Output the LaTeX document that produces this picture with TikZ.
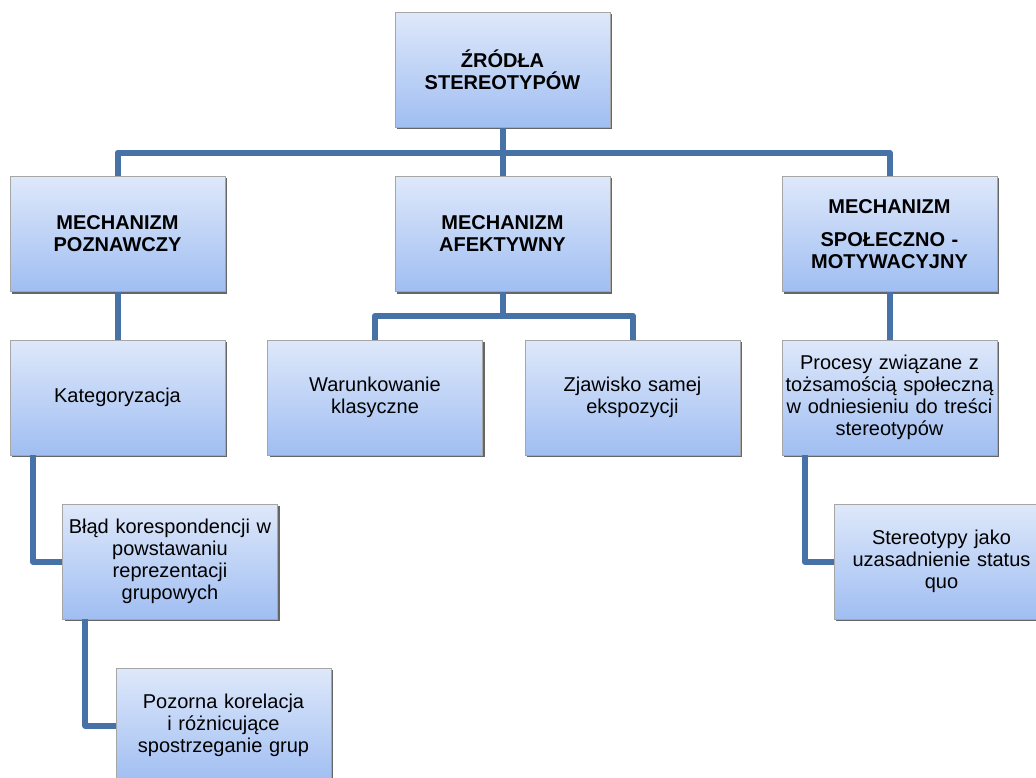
\documentclass[tikz,border=0pt]{standalone}
\usepackage{fontspec}
\setmainfont{Liberation Sans}
\usetikzlibrary{shadows}

\definecolor{linkblue}{RGB}{70,114,168}
\definecolor{boxtop}{RGB}{222,232,250}
\definecolor{boxbottom}{RGB}{160,190,242}

\tikzset{
  box/.style={rectangle, draw=black!35, thin,
              top color=boxtop, bottom color=boxbottom,
              drop shadow={shadow xshift=2pt, shadow yshift=-2pt, fill=black!60, opacity=1},
              minimum width=215pt, minimum height=115pt,
              text width=209pt, align=center, inner sep=0pt,
              font=\fontsize{20}{22}\selectfont},
  head/.style={font=\fontsize{20}{22}\selectfont\bfseries},
  link/.style={draw=linkblue, line width=6pt, line join=round}
}

\begin{document}
\begin{tikzpicture}[x=1pt, y=-1pt]
\useasboundingbox (0,0) rectangle (1036,778);
\clip (0,0) rectangle (1036,778);

\begin{scope}[every node/.style={box}]
    \node[head] (zrodla) at (502.5, 70) {ŹRÓDŁA\\STEREOTYPÓW};

    \node[head] (poznawczy) at (117.5, 234) {MECHANIZM\\POZNAWCZY};
    \node[head] (afektywny) at (502.5, 234) {MECHANIZM\\AFEKTYWNY};
    \node[head] (spoleczno) at (889.5, 234) {MECHANIZM\\[11pt]SPOŁECZNO -\\MOTYWACYJNY};

    \node (kategoryzacja) at (117.5, 397.5) {Kategoryzacja};
    \node (warunkowanie) at (375, 397.5) {Warunkowanie\\klasyczne};
    \node (zjawisko) at (632.5, 397.5) {Zjawisko samej\\ekspozycji};
    \node (procesy) at (889.5, 397.5) {Procesy związane z\\tożsamością społeczną\\w odniesieniu do treści\\stereotypów};

    \node (blad) at (170, 561.5) {Błąd korespondencji w\\powstawaniu\\reprezentacji\\grupowych};
    \node (stereotypy) at (941.5, 561.5) {Stereotypy jako\\uzasadnienie status\\quo};

    \node (pozorna) at (223.5, 725.5) {Pozorna korelacja\\i różnicujące\\spostrzeganie grup};
\end{scope}

\begin{scope}[every path/.style={link}]
    \path (zrodla.south) -- ++(0,25) -| (poznawczy.north);
    \path (zrodla.south) -- ++(0,25) -| (spoleczno.north);
    \path (zrodla.south) -- (afektywny.north);

    \path (poznawczy.south) -- (kategoryzacja.north);
    \path (spoleczno.south) -- (procesy.north);

    \path (afektywny.south) -- ++(0,24) -| (warunkowanie.north);
    \path (afektywny.south) -- ++(0,24) -| (zjawisko.north);

    \path ([xshift=23pt]kategoryzacja.south west) |- (blad.west);
    \path ([xshift=23pt]blad.south west) |- (pozorna.west);
    \path ([xshift=23pt]procesy.south west) |- (stereotypy.west);
\end{scope}
\end{tikzpicture}
\end{document}
